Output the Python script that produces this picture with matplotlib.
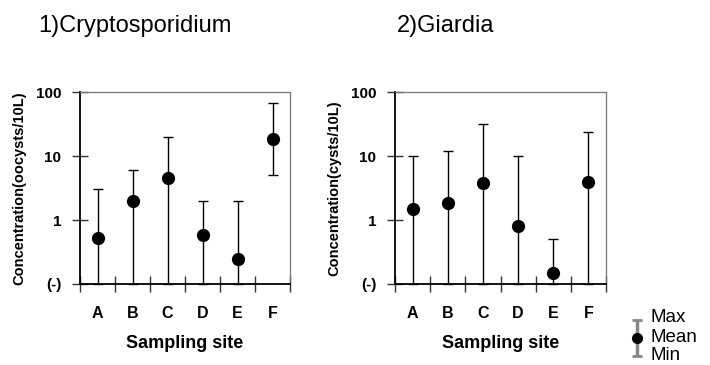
import numpy as np
import matplotlib.pyplot as plt
from matplotlib.ticker import FixedLocator, NullFormatter

plt.rcParams['font.family'] = ['Liberation Sans', 'DejaVu Sans']

sites = ['A', 'B', 'C', 'D', 'E', 'F']
nd = 0.1  # not detected, shown as "(-)"

crypto_mean = [0.52, 1.95, 4.5, 0.58, 0.25, 18.4]
crypto_max = [3, 6, 20, 2, 2, 68]
crypto_min = [nd, nd, nd, nd, nd, 5]

giardia_mean = [1.48, 1.84, 3.85, 0.8, 0.146, 3.95]
giardia_max = [10, 12, 32, 10, 0.5, 24]
giardia_min = [nd, nd, nd, nd, nd, nd]

ytick_vals = [nd, 1, 10, 100]
ytick_labels = ['(-)', '1', '10', '100']

W, H = 710, 365
fig = plt.figure(figsize=(W / 100, H / 100), dpi=100)


def panel(rect, mean, vmax, vmin, ylabel):
    ax = fig.add_axes(rect)
    x = np.arange(1, len(sites) + 1)
    mean = np.array(mean)
    err = [mean - np.array(vmin), np.array(vmax) - mean]
    ax.errorbar(x, mean, yerr=err, fmt='o', color='black', ms=8.5,
                elinewidth=1, capsize=3.5, capthick=1, clip_on=False, zorder=3)
    ax.set_yscale('log')
    ax.set_ylim(nd, 100)
    ax.set_xlim(0.5, len(sites) + 0.5)
    ax.yaxis.set_major_locator(FixedLocator(ytick_vals))
    ax.yaxis.set_minor_locator(FixedLocator([]))
    ax.set_yticklabels(ytick_labels, fontsize=11, fontweight='bold')
    # boundary ticks between sites, labels centred on each site
    ax.xaxis.set_major_locator(FixedLocator(np.arange(0.5, len(sites) + 1)))
    ax.xaxis.set_major_formatter(NullFormatter())
    ax.xaxis.set_minor_locator(FixedLocator(x))
    ax.set_xticklabels(sites, minor=True, fontsize=11.5, fontweight='bold')
    ax.tick_params(axis='both', which='major', direction='inout', length=11,
                   width=1, color='#333333')
    ax.tick_params(axis='y', which='major', pad=8)
    ax.tick_params(axis='x', which='minor', length=0, pad=16)
    for s in ['left', 'bottom']:
        ax.spines[s].set_color('black')
        ax.spines[s].set_linewidth(1.3)
    for s in ['top', 'right']:
        ax.spines[s].set_color('#777777')
        ax.spines[s].set_linewidth(0.9)
    ax.set_xlabel('Sampling site', fontsize=13, fontweight='bold', labelpad=10)
    ax.set_ylabel(ylabel, fontsize=10.5, fontweight='bold', labelpad=7)
    return ax


ax1 = panel([80 / W, 1 - 284 / H, 210 / W, 192 / H],
            crypto_mean, crypto_max, crypto_min, 'Concentration(oocysts/10L)')
ax2 = panel([395 / W, 1 - 284 / H, 211 / W, 192 / H],
            giardia_mean, giardia_max, giardia_min, 'Concentration(cysts/10L)')

fig.text(38 / W, 1 - 32 / H, '1)Cryptosporidium', fontsize=17, va='baseline')
fig.text(397 / W, 1 - 32 / H, '2)Giardia', fontsize=17, va='baseline')

# Max / Mean / Min key
lax = fig.add_axes([627 / W, 1 - 359 / H, 20 / W, 42 / H])
lax.set_axis_off()
lax.set_xlim(-1, 1)
lax.set_ylim(-1.15, 1.15)
lax.errorbar([0], [0], yerr=[[1], [1]], fmt='o', color='black', ms=7,
             ecolor='#888888', elinewidth=2.5, capsize=3.5, capthick=2)
for label, ypx in [('Max', 318), ('Mean', 337), ('Min', 355)]:
    fig.text(651 / W, 1 - ypx / H, label, fontsize=13.5, va='center')

fig.savefig('out.png', dpi=100)
